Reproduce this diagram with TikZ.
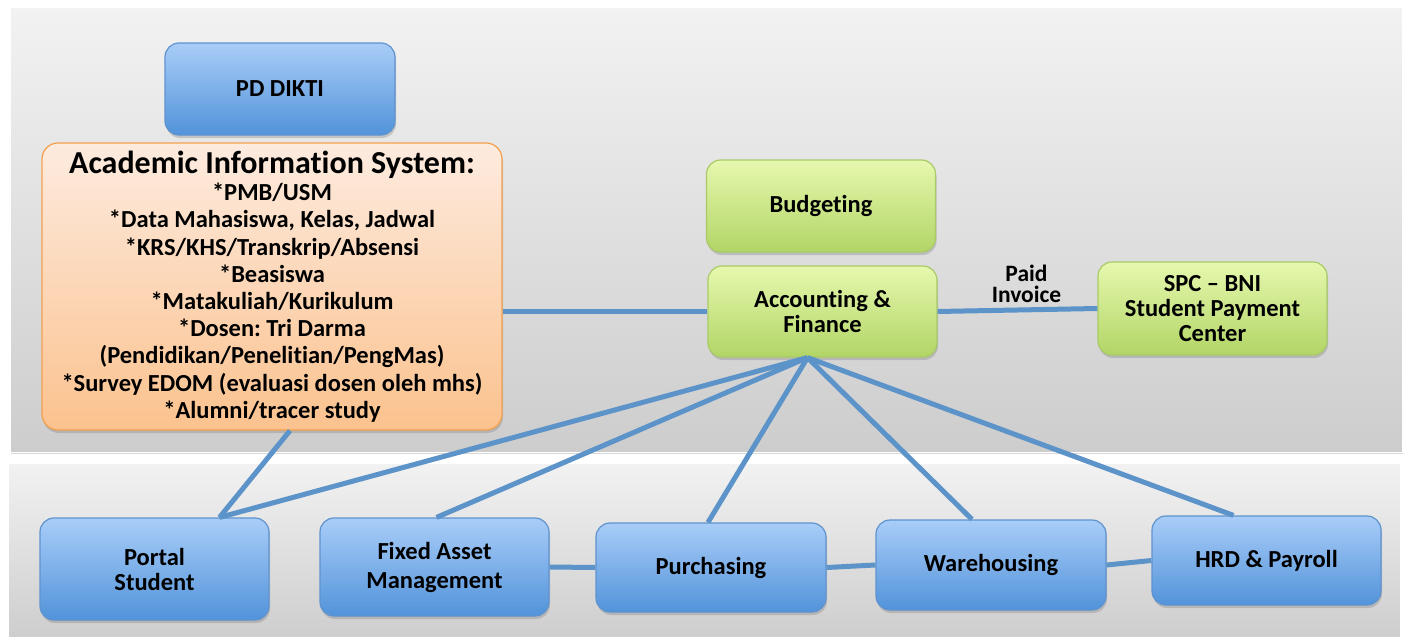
\documentclass[tikz,border=0pt]{standalone}
\usepackage{fontspec}
\setmainfont{Carlito}[Ligatures=CommonOff]
\frenchspacing
\usetikzlibrary{shadows}

\definecolor{panelT}{HTML}{F2F2F2}
\definecolor{panelB}{HTML}{CDCDCD}
\definecolor{blueT}{HTML}{A9CDF8}
\definecolor{blueB}{HTML}{5293DA}
\definecolor{blueLine}{HTML}{5F93CF}
\definecolor{greenT}{HTML}{E6F8AE}
\definecolor{greenB}{HTML}{B2D566}
\definecolor{greenLine}{HTML}{A9CB67}
\definecolor{orangeT}{HTML}{FDEBDF}
\definecolor{orangeB}{HTML}{FBC28E}
\definecolor{orangeLine}{HTML}{F4A04F}
\definecolor{linkBlue}{HTML}{5C93C9}

\begin{document}
\begin{tikzpicture}[x=1pt, y=-1pt,
  box/.style={rounded corners=14pt, minimum width=229pt, minimum height=91pt, align=center, line width=1.2pt, font=\bfseries\fontsize{24.5}{25}\selectfont, drop shadow={shadow xshift=1pt, shadow yshift=-3pt, opacity=0.35}},
  blue box/.style={box, draw=blueLine, top color=blueT, bottom color=blueB},
  green box/.style={box, draw=greenLine, top color=greenT, bottom color=greenB},
  orange box/.style={box, draw=orangeLine, top color=orangeT, bottom color=orangeB},
  panel/.style={draw=white, line width=1pt, top color=panelT, bottom color=panelB, drop shadow={shadow xshift=1pt, shadow yshift=-2pt, opacity=0.3}},
  link/.style={draw=linkBlue, line width=5pt}]

    \useasboundingbox (0, 0) rectangle (1409, 637);
    \fill[white] (0, 0) rectangle (1409, 637);
    \path[panel] (10, 7) rectangle (1402, 452);
    \path[panel] (8, 463) rectangle (1400, 640);

    \node[blue box, minimum width=230pt, minimum height=92pt] at (280, 89) (dikti) {PD DIKTI};
    \node[orange box, minimum width=460pt, minimum height=287pt, rounded corners=16pt, font=\bfseries\fontsize{24.5}{27.2}\selectfont] at (272, 286.5) (ais) {{\fontsize{32}{30}\selectfont Academic Information System:}\\*PMB/USM\\*Data Mahasiswa, Kelas, Jadwal\\*KRS/KHS/Transkrip/Absensi\\*Beasiswa\\*Matakuliah/Kurikulum\\*Dosen: Tri Darma\\(Pendidikan/Penelitian/PengMas)\\*Survey EDOM (evaluasi dosen oleh mhs)\\*Alumni/tracer study};

    \node[green box, minimum height=92pt] at (821, 206) (budget) {Budgeting};
    \node[green box] at (822.5, 311.5) (acc) {Accounting \&\\Finance};
    \node[green box, minimum height=93pt] at (1212.5, 308.5) (spc) {SPC -- BNI\\Student Payment\\Center};

    \node[blue box, minimum height=102pt] at (154.5, 569) (portal) {Portal\\Student};
    \node[blue box, minimum height=98pt, font=\bfseries\fontsize{24.5}{29}\selectfont] at (434.5, 567) (asset) {Fixed Asset\\Management};
    \node[blue box, minimum width=230pt, minimum height=89pt] at (711, 567.5) (purch) {Purchasing};
    \node[blue box, minimum width=230pt, minimum height=90pt] at (991, 565) (wareh) {Warehousing};
    \node[blue box, minimum height=89pt] at (1266.5, 560.5) (hrd) {HRD \& Payroll};

    \coordinate (hub) at ([xshift=-15pt]acc.south);

    \path[link] (acc.west -| ais.east) edge (acc.west);
    \path[link] (acc.east) edge node[midway, above=4pt, xshift=9pt, inner sep=1pt, align=center, text=black, font=\bfseries\fontsize{23.5}{21}\selectfont] {Paid\\Invoice} (spc.west);
    \path[link] ([xshift=18pt]ais.south) edge ([xshift=65pt]portal.north);
    \path[link] (hub) edge ([xshift=65pt]portal.north);
    \path[link] (hub) edge ([xshift=2pt]asset.north);
    \path[link] (hub) edge ([xshift=-3pt]purch.north);
    \path[link] (hub) edge ([xshift=-19pt]wareh.north);
    \path[link] (hub) edge ([xshift=-33pt]hrd.north);
    \path[link] (asset.east) edge (purch.west);
    \path[link] (purch.east) edge (wareh.west);
    \path[link] (wareh.east) edge (hrd.west);

\end{tikzpicture}
\end{document}
